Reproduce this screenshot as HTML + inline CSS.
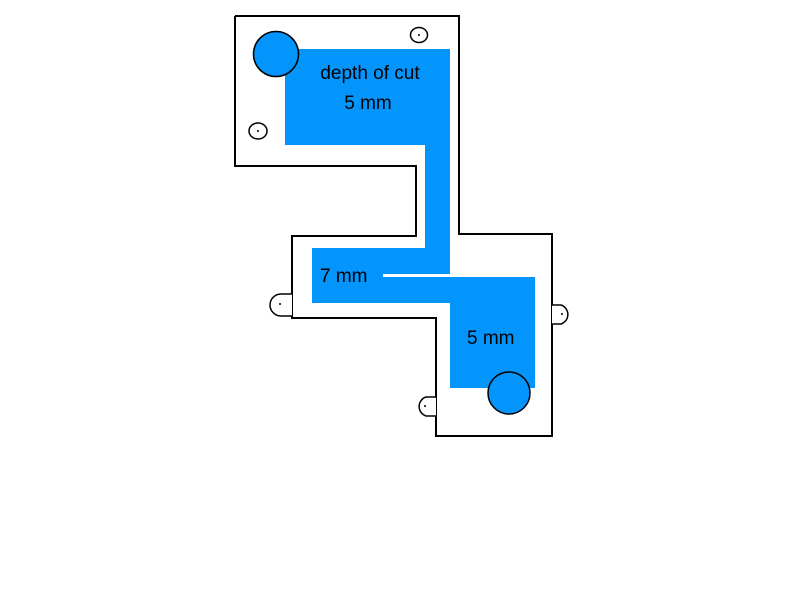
<!DOCTYPE html>
<html><head><style>body{margin:0;background:#fff}</style></head><body>
<svg width="800" height="600" xmlns="http://www.w3.org/2000/svg">
<rect width="800" height="600" fill="#fff"/>
<g fill="#0394fc">
<rect x="285" y="49" width="165" height="96"/>
<rect x="425" y="145" width="25" height="129"/>
<rect x="312" y="248" width="138" height="26"/>
<rect x="312" y="248" width="71" height="55"/>
<rect x="383" y="277" width="152" height="26"/>
<rect x="450" y="277" width="85" height="111"/>
</g>
<polyline points="235,16 459,16 459,234 552,234 552,436 436,436 436,318 292,318 292,236 416,236 416,166 235,166 235,16" fill="none" stroke="#000" stroke-width="2"/>
<circle cx="276" cy="54" r="22.5" fill="#0394fc" stroke="#000" stroke-width="1.5"/>
<circle cx="509" cy="393" r="21" fill="#0394fc" stroke="#000" stroke-width="1.5"/>
<ellipse cx="419" cy="35" rx="8.5" ry="7.5" fill="#fff" stroke="#000" stroke-width="1.5"/>
<circle cx="419" cy="35" r="1" fill="#000"/>
<ellipse cx="258" cy="131" rx="9" ry="8" fill="#fff" stroke="#000" stroke-width="1.5"/>
<circle cx="258" cy="131" r="1" fill="#000"/>
<path d="M292,294 H281 A11,11 0 0 0 281,316 H292" fill="#fff" stroke="#000" stroke-width="1.5"/>
<circle cx="280" cy="304" r="1" fill="#000"/>
<path d="M436,397 H426 A10,10 0 0 0 426,416 H436" fill="#fff" stroke="#000" stroke-width="1.5"/>
<circle cx="425" cy="406" r="1" fill="#000"/>
<path d="M552,305 H561 A10,10 0 0 1 561,324 H552" fill="#fff" stroke="#000" stroke-width="1.5"/>
<circle cx="562" cy="314" r="1" fill="#000"/>
<g font-family="Liberation Sans, sans-serif" font-size="19" fill="#000">
<text x="370" y="79" text-anchor="middle">depth of cut</text>
<text x="368" y="109" text-anchor="middle">5 mm</text>
<text x="320" y="282">7 mm</text>
<text x="467" y="344">5 mm</text>
</g>
</svg>
</body></html>
